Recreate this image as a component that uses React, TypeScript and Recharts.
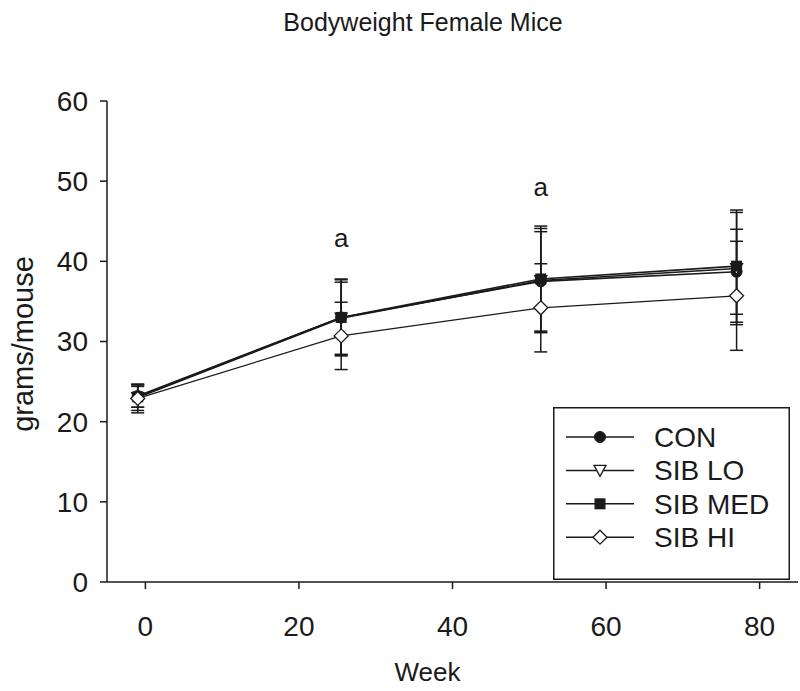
import { LineChart, Line, XAxis, YAxis, ErrorBar, ReferenceDot } from 'recharts';

// values (weeks are where the points sit)
const weeks = [-1, 25.5, 51.5, 77];
const seriesNames = ['CON', 'SIB LO', 'SIB MED', 'SIB HI'];
const conMean = [23.2, 33.0, 37.5, 38.7];
const conSd = [1.4, 4.8, 6.2, 5.3];
const loMean = [23.0, 32.9, 37.6, 39.1];
const loSd = [1.6, 4.5, 6.5, 7.0];
const medMean = [23.1, 33.0, 37.8, 39.4];
const medSd = [1.3, 4.7, 6.6, 7.0];
const hiMean = [22.9, 30.7, 34.2, 35.7];
const hiSd = [1.8, 4.2, 5.5, 6.8];
const xTicks = [0, 20, 40, 60, 80];
const yTicks = [0, 10, 20, 30, 40, 50, 60];
const sigWeeks = [25.5, 51.5];
const sigLevels = [43.0, 49.3];
const sigText = 'a';

const data = weeks.map((w, i) => ({
  week: w,
  con: conMean[i], conErr: conSd[i],
  lo: loMean[i], loErr: loSd[i],
  med: medMean[i], medErr: medSd[i],
  hi: hiMean[i], hiErr: hiSd[i],
}));

const ink = '#1a1a1a';
const font = '"Liberation Sans", Arial, sans-serif';
const kinds = ['circle', 'triangle', 'square', 'diamond'];

function marker(kind: string, cx: number, cy: number, key?: string) {
  if (kind === 'circle') return <circle key={key} cx={cx} cy={cy} r={5.5} fill={ink} stroke={ink} />;
  if (kind === 'triangle')
    return <polygon key={key} points={`${cx - 6},${cy - 5} ${cx + 6},${cy - 5} ${cx},${cy + 6}`} fill="#fff" stroke={ink} strokeWidth={1.3} />;
  if (kind === 'square') return <rect key={key} x={cx - 5.5} y={cy - 5.5} width={11} height={11} fill={ink} />;
  return <polygon key={key} points={`${cx},${cy - 7} ${cx + 7},${cy} ${cx},${cy + 7} ${cx - 7},${cy}`} fill="#fff" stroke={ink} strokeWidth={1.3} />;
}

const dotFor = (kind: string) => (p: any) => marker(kind, p.cx, p.cy, `${kind}-${p.index}`);

// legend drawn on top of the plot, box sits in the lower right corner
function LegendBox() {
  return (
    <svg width={237} height={173} style={{ position: 'absolute', left: 553, top: 407 }}>
      <rect x={0.75} y={0.75} width={235.5} height={171.5} fill="#fff" stroke={ink} strokeWidth={1.5} />
      {seriesNames.map((name, i) => {
        const y = 30 + i * 33.4;
        return (
          <g key={name}>
            <line x1={13} x2={81} y1={y} y2={y} stroke={ink} strokeWidth={1.5} />
            {marker(kinds[i], 47, y)}
            <text x={101} y={y + 10} fontSize={28} fontFamily={font} fill={ink}>{name}</text>
          </g>
        );
      })}
    </svg>
  );
}

export default function App() {
  return (
    <div style={{ position: 'absolute', left: 0, top: 0, width: 800, height: 691, background: '#fff', fontFamily: font }}>
      <div style={{ position: 'absolute', left: 223, top: 8, width: 400, textAlign: 'center', fontSize: 25, color: ink }}>
        Bodyweight Female Mice
      </div>
      <div
        style={{
          position: 'absolute', left: 23, top: 344, fontSize: 29, color: ink, whiteSpace: 'nowrap',
          transform: 'translate(-50%, -50%) rotate(-90deg)',
        }}
      >
        grams/mouse
      </div>
      <LineChart width={800} height={691} data={data} margin={{ top: 101, right: 2, bottom: 0, left: 0 }}>
        <XAxis
          dataKey="week"
          type="number"
          domain={[-5, 85]}
          ticks={xTicks}
          allowDataOverflow
          height={109}
          stroke={ink}
          strokeWidth={1.5}
          tickSize={7}
          tickMargin={27}
          tick={{ fontSize: 28, fill: ink, fontFamily: font }}
          label={{ value: 'Week', position: 'insideBottom', offset: 10, dx: -25, fontSize: 26, fill: ink, fontFamily: font }}
        />
        <YAxis
          type="number"
          domain={[0, 60]}
          ticks={yTicks}
          width={107}
          stroke={ink}
          strokeWidth={1.5}
          tickSize={7}
          tickMargin={12}
          tick={{ fontSize: 28, fill: ink, fontFamily: font }}
        />
        <Line dataKey="con" name={seriesNames[0]} stroke={ink} strokeWidth={1.6} dot={dotFor('circle')} isAnimationActive={false}>
          <ErrorBar dataKey="conErr" width={6.5} stroke={ink} strokeWidth={1.5} />
        </Line>
        <Line dataKey="lo" name={seriesNames[1]} stroke={ink} strokeWidth={1.6} dot={dotFor('triangle')} isAnimationActive={false}>
          <ErrorBar dataKey="loErr" width={6.5} stroke={ink} strokeWidth={1.5} />
        </Line>
        <Line dataKey="med" name={seriesNames[2]} stroke={ink} strokeWidth={1.6} dot={dotFor('square')} isAnimationActive={false}>
          <ErrorBar dataKey="medErr" width={6.5} stroke={ink} strokeWidth={1.5} />
        </Line>
        <Line dataKey="hi" name={seriesNames[3]} stroke={ink} strokeWidth={1.3} dot={dotFor('diamond')} isAnimationActive={false}>
          <ErrorBar dataKey="hiErr" width={6.5} stroke={ink} strokeWidth={1.5} />
        </Line>
        {sigWeeks.map((w, i) => (
          <ReferenceDot
            key={w}
            x={w}
            y={sigLevels[i]}
            r={0}
            stroke="none"
            label={{ value: sigText, position: 'center', fontSize: 26, fill: ink, fontFamily: font }}
          />
        ))}
      </LineChart>
      <LegendBox />
    </div>
  );
}
